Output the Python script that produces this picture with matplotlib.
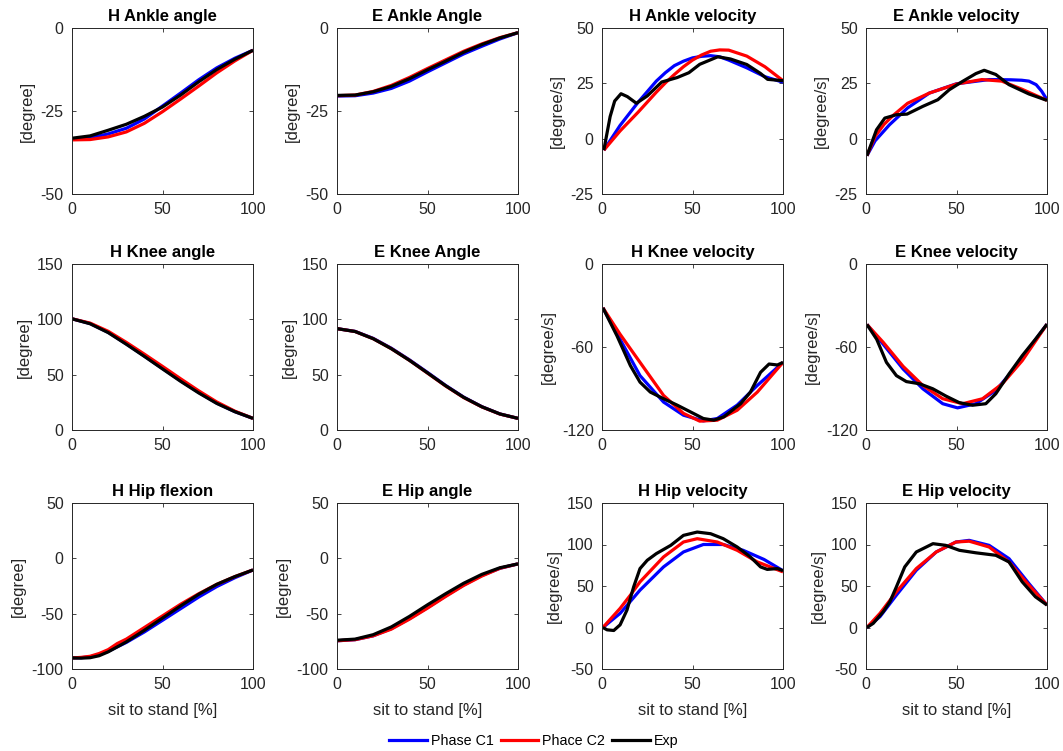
import matplotlib

matplotlib.use("Agg")
import matplotlib.pyplot as plt
from matplotlib.lines import Line2D

plt.rcParams["font.family"] = ["Liberation Sans", "DejaVu Sans"]
plt.rcParams["axes.unicode_minus"] = False

# ---- data (x = sit to stand [%]) ----
x10 = [0, 10, 20, 30, 40, 50, 60, 70, 80, 90, 100]

# H ankle angle
h_ankle_ang_c1 = [-33.5, -33.1, -31.9, -30.2, -27.4, -23.5, -19.6, -15.6, -12.0, -9.1, -6.7]
h_ankle_ang_c2 = [-33.7, -33.6, -32.8, -31.3, -28.7, -25.2, -21.4, -17.5, -13.5, -9.9, -6.7]
h_ankle_ang_exp = [-33.2, -32.5, -30.8, -29.0, -26.6, -23.8, -20.2, -16.2, -12.5, -9.4, -6.7]

# E ankle angle
e_ankle_ang_c1 = [-20.5, -20.4, -19.6, -18.2, -16.0, -13.2, -10.5, -7.8, -5.5, -3.3, -1.4]
e_ankle_ang_c2 = [-20.4, -20.2, -19.1, -17.3, -14.9, -12.2, -9.6, -7.0, -4.8, -2.9, -1.4]
e_ankle_ang_exp = [-20.3, -20.2, -19.2, -17.6, -15.3, -12.6, -10.0, -7.3, -5.0, -3.0, -1.4]

# H ankle velocity
h_ankle_vel_x = [1, 10, 20, 30, 35, 40, 45, 50, 55, 60, 65, 70, 80, 90, 100]
h_ankle_vel_c1 = [-5.2, 6.0, 16.5, 26.0, 29.8, 33.0, 35.0, 36.5, 37.2, 37.5, 37.0, 35.5, 32.0, 28.0, 25.5]
h_ankle_vel_c2 = [-5.2, 3.5, 12.0, 21.0, 25.2, 29.0, 32.5, 35.5, 37.8, 39.5, 40.1, 40.0, 37.3, 32.5, 26.2]
h_ankle_vel_exp_x = [1, 4.5, 7, 10.5, 14, 19, 25, 33, 41.5, 48, 54, 64, 71, 80, 87.5, 91.5, 100]
h_ankle_vel_exp = [-5.2, 10.0, 17.0, 20.3, 19.0, 16.0, 19.3, 25.6, 27.6, 29.8, 33.6, 37.0, 36.0, 33.5, 29.5, 26.8, 26.2]

# E ankle velocity
e_ankle_vel_c1_x = [0.5, 5, 13, 23, 35, 50, 68, 80, 86, 90, 94, 97, 100]
e_ankle_vel_c1 = [-7.7, -1.0, 6.3, 13.9, 20.6, 24.8, 26.7, 26.6, 26.4, 26.0, 24.4, 21.5, 17.6]
e_ankle_vel_c2_x = [0.5, 5, 10, 15, 23, 35, 50, 64, 75, 86, 100]
e_ankle_vel_c2 = [-7.7, 1.0, 6.5, 10.5, 16.0, 20.6, 24.7, 26.7, 26.0, 22.4, 17.3]
e_ankle_vel_exp_x = [0.5, 5.8, 10.4, 16.8, 22.7, 31.4, 39.7, 46, 53.4, 60.7, 65.3, 71.7, 79, 90, 100]
e_ankle_vel_exp = [-7.7, 4.0, 9.3, 10.8, 11.1, 14.6, 17.6, 22.1, 25.9, 29.4, 30.9, 29.0, 24.4, 20.2, 17.3]

# H knee angle
h_knee_ang_c1 = [100.5, 96.2, 88.3, 77.8, 66.8, 55.6, 44.5, 34.0, 24.3, 16.6, 10.5]
h_knee_ang_c2 = [100.5, 96.6, 89.2, 79.2, 68.5, 57.5, 46.3, 35.4, 25.3, 17.0, 10.5]
h_knee_ang_exp = [100.5, 96.0, 88.0, 77.5, 66.5, 55.2, 44.0, 33.5, 24.0, 16.5, 10.5]

# E knee angle
e_knee_ang_c1 = [91.6, 89.1, 82.8, 73.9, 63.4, 52.0, 40.3, 29.7, 21.1, 14.5, 10.5]
e_knee_ang_c2 = [91.6, 89.0, 82.5, 73.5, 63.0, 51.4, 39.8, 29.3, 20.9, 14.4, 10.5]
e_knee_ang_exp = [91.6, 89.0, 82.5, 73.5, 63.0, 51.6, 40.0, 29.5, 21.0, 14.5, 10.5]

# H knee velocity
h_knee_vel_c1_x = [0.5, 10, 21, 34, 45, 56, 63.7, 74.7, 85.8, 100]
h_knee_vel_c1 = [-31.7, -54.4, -80.7, -99.8, -109.3, -113.4, -111.7, -102.0, -87.8, -71.1]
h_knee_vel_c2_x = [0.5, 10, 21, 34, 45, 54, 63.7, 74.7, 85.8, 100]
h_knee_vel_c2 = [-31.7, -50.8, -71.1, -95.0, -108.0, -113.6, -112.9, -105.7, -92.6, -71.1]
h_knee_vel_exp_x = [0.5, 8.3, 15.7, 21, 26.7, 34, 41.5, 49, 56, 61.8, 67.3, 76.6, 82, 87.6, 92.3, 96.9, 100]
h_knee_vel_exp = [-31.7, -52.0, -73.5, -85.4, -92.6, -97.4, -102.0, -107.0, -111.7, -112.9, -110.5, -101.0, -92.6, -78.3, -72.3, -73.0, -71.1]

# E knee velocity
e_knee_vel_c1_x = [0.5, 9.5, 20.5, 31.4, 42.4, 50.6, 60.7, 71.7, 82.6, 91.8, 100]
e_knee_vel_c1 = [-43.7, -58.0, -75.9, -90.2, -101.0, -104.0, -101.0, -91.4, -74.7, -58.0, -43.5]
e_knee_vel_c2_x = [0.5, 9.5, 20.5, 31.4, 42.4, 53.4, 64.4, 75.3, 86.3, 100]
e_knee_vel_c2 = [-43.7, -56.6, -74.0, -87.8, -97.4, -101.0, -97.4, -86.6, -69.9, -43.5]
e_knee_vel_exp_x = [0.5, 5.9, 11.3, 16.8, 22.3, 29.6, 36.9, 44.2, 51.5, 58.9, 66.2, 71.7, 79, 86.3, 93.6, 100]
e_knee_vel_exp = [-43.7, -54.4, -71.1, -80.7, -85.0, -86.6, -90.2, -95.5, -100.2, -102.1, -101.0, -93.8, -79.5, -66.3, -54.4, -43.5]

# H hip flexion
hip_x = [0, 5, 10, 15, 20, 25, 30, 40, 50, 60, 70, 80, 90, 100]
h_hip_ang_c1 = [-90, -89.8, -89.0, -87.0, -84.0, -80.0, -76.0, -66.5, -56.0, -45.5, -35.0, -25.5, -17.5, -10.5]
h_hip_ang_c2 = [-90, -89.5, -88.5, -86.0, -82.5, -77.0, -73.0, -62.5, -52.0, -41.5, -32.0, -23.5, -16.5, -10.5]
h_hip_ang_exp = [-90, -90.2, -89.8, -88.0, -84.5, -80.0, -75.5, -65.0, -54.0, -43.0, -32.5, -23.5, -16.5, -10.5]

# E hip angle
e_hip_ang_c1 = [-74.5, -73.5, -70.0, -63.5, -54.5, -44.5, -34.0, -24.0, -15.5, -9.0, -5.0]
e_hip_ang_c2 = [-74.5, -73.5, -70.0, -64.0, -55.0, -45.0, -34.5, -24.5, -16.0, -9.0, -5.0]
e_hip_ang_exp = [-74.0, -73.0, -69.0, -62.0, -52.5, -42.0, -32.0, -22.5, -14.5, -8.5, -5.0]

# H hip velocity
h_hip_vel_c1_x = [0.5, 10, 21, 34, 45, 56, 67, 78, 89.5, 100]
h_hip_vel_c1 = [0, 17, 45, 73, 91, 100, 100, 93, 82, 68.4]
h_hip_vel_c2_x = [0.5, 10, 15.7, 21, 34, 45, 52.6, 63.7, 74.7, 85.8, 100]
h_hip_vel_c2 = [0, 23, 39, 55, 85, 103, 107, 103, 93, 79, 67]
h_hip_vel_exp_x = [0.5, 2.8, 6.5, 10, 13.8, 17.5, 21, 25, 30, 38, 45, 52.6, 60, 67, 74.7, 82, 87.6, 91.3, 96.9, 100]
h_hip_vel_exp = [0, -2.8, -3.6, 3.2, 21, 49, 71, 81, 89, 99, 111, 115, 113, 107, 97, 85, 73, 70, 71, 68.4]

# E hip velocity
e_hip_vel_x = [0.5, 7.7, 16.8, 27.8, 38.8, 49.7, 57, 68, 79, 90, 100]
e_hip_vel_c1 = [0, 13, 39, 69, 91, 103, 105, 99, 83, 53, 27]
e_hip_vel_c2 = [0, 17, 43, 71, 91, 103, 104, 97, 79, 51, 27]
e_hip_vel_exp_x = [0.5, 4, 9.5, 13.2, 16.8, 21.4, 27.8, 37, 44, 51.6, 60.7, 71.7, 79, 86.3, 93.6, 100]
e_hip_vel_exp = [0, 5, 19, 31, 49, 73, 91, 101, 99, 93, 90, 87, 79, 55, 37, 27]

series_names = ["Phase C1", "Phace C2", "Exp"]
series_colors = ["#0000ff", "#ff0000", "#000000"]

panels = [
    # title, ylabel, ylim, yticks, (x, c1), (x, c2), (x, exp)
    ("H Ankle angle", "[degree]", (-50, 0), [-50, -25, 0],
     (x10, h_ankle_ang_c1), (x10, h_ankle_ang_c2), (x10, h_ankle_ang_exp)),
    ("E Ankle Angle", "[degree]", (-50, 0), [-50, -25, 0],
     (x10, e_ankle_ang_c1), (x10, e_ankle_ang_c2), (x10, e_ankle_ang_exp)),
    ("H Ankle velocity", "[degree/s]", (-25, 50), [-25, 0, 25, 50],
     (h_ankle_vel_x, h_ankle_vel_c1), (h_ankle_vel_x, h_ankle_vel_c2), (h_ankle_vel_exp_x, h_ankle_vel_exp)),
    ("E Ankle velocity", "[degree/s]", (-25, 50), [-25, 0, 25, 50],
     (e_ankle_vel_c1_x, e_ankle_vel_c1), (e_ankle_vel_c2_x, e_ankle_vel_c2), (e_ankle_vel_exp_x, e_ankle_vel_exp)),
    ("H Knee angle", "[degree]", (0, 150), [0, 50, 100, 150],
     (x10, h_knee_ang_c1), (x10, h_knee_ang_c2), (x10, h_knee_ang_exp)),
    ("E Knee Angle", "[degree]", (0, 150), [0, 50, 100, 150],
     (x10, e_knee_ang_c1), (x10, e_knee_ang_c2), (x10, e_knee_ang_exp)),
    ("H Knee velocity", "[degree/s]", (-120, 0), [-120, -60, 0],
     (h_knee_vel_c1_x, h_knee_vel_c1), (h_knee_vel_c2_x, h_knee_vel_c2), (h_knee_vel_exp_x, h_knee_vel_exp)),
    ("E Knee velocity", "[degree/s]", (-120, 0), [-120, -60, 0],
     (e_knee_vel_c1_x, e_knee_vel_c1), (e_knee_vel_c2_x, e_knee_vel_c2), (e_knee_vel_exp_x, e_knee_vel_exp)),
    ("H Hip flexion", "[degree]", (-100, 50), [-100, -50, 0, 50],
     (hip_x, h_hip_ang_c1), (hip_x, h_hip_ang_c2), (hip_x, h_hip_ang_exp)),
    ("E Hip angle", "[degree]", (-100, 50), [-100, -50, 0, 50],
     (x10, e_hip_ang_c1), (x10, e_hip_ang_c2), (x10, e_hip_ang_exp)),
    ("H Hip velocity", "[degree/s]", (-50, 150), [-50, 0, 50, 100, 150],
     (h_hip_vel_c1_x, h_hip_vel_c1), (h_hip_vel_c2_x, h_hip_vel_c2), (h_hip_vel_exp_x, h_hip_vel_exp)),
    ("E Hip velocity", "[degree/s]", (-50, 150), [-50, 0, 50, 100, 150],
     (e_hip_vel_x, e_hip_vel_c1), (e_hip_vel_x, e_hip_vel_c2), (e_hip_vel_exp_x, e_hip_vel_exp)),
]

W, H = 1063, 751
col_left = [72, 337, 602, 866]
row_top = [28, 264, 503]
ax_w, ax_h = 181, 166
ink = "#262626"

fig = plt.figure(figsize=(W / 100, H / 100), dpi=100)

for i, (title, ylab, ylim, yticks, s1, s2, s3) in enumerate(panels):
    r, c = divmod(i, 4)
    ax = fig.add_axes([col_left[c] / W, 1 - (row_top[r] + ax_h) / H, ax_w / W, ax_h / H])
    for (xs, ys), col in zip((s1, s2, s3), series_colors):
        ax.plot(xs, ys, color=col, lw=2.3, solid_capstyle="butt")
    ax.set_xlim(0, 100)
    ax.set_ylim(*ylim)
    ax.set_xticks([0, 50, 100])
    ax.set_yticks(yticks)
    ax.tick_params(direction="in", top=True, right=True, length=3, width=0.6,
                   labelsize=11.5, colors=ink, pad=6)
    for sp in ax.spines.values():
        sp.set_color(ink)
        sp.set_linewidth(0.7)
    ax.set_title(title, fontsize=12, fontweight="bold", pad=5)
    ax.set_ylabel(ylab, fontsize=12, color=ink, labelpad=4)
    if r == 2:
        ax.set_xlabel("sit to stand [%]", fontsize=12, color=ink, labelpad=8)

handles = [Line2D([], [], color=col, lw=2.3) for col in series_colors]
fig.legend(handles, series_names, loc="center", bbox_to_anchor=(534 / W, 1 - 741 / H),
           ncol=3, frameon=False, fontsize=10.3, handlelength=2.6,
           handletextpad=0.3, columnspacing=0.5, borderpad=0.1)

fig.savefig("out.png", dpi=100)
